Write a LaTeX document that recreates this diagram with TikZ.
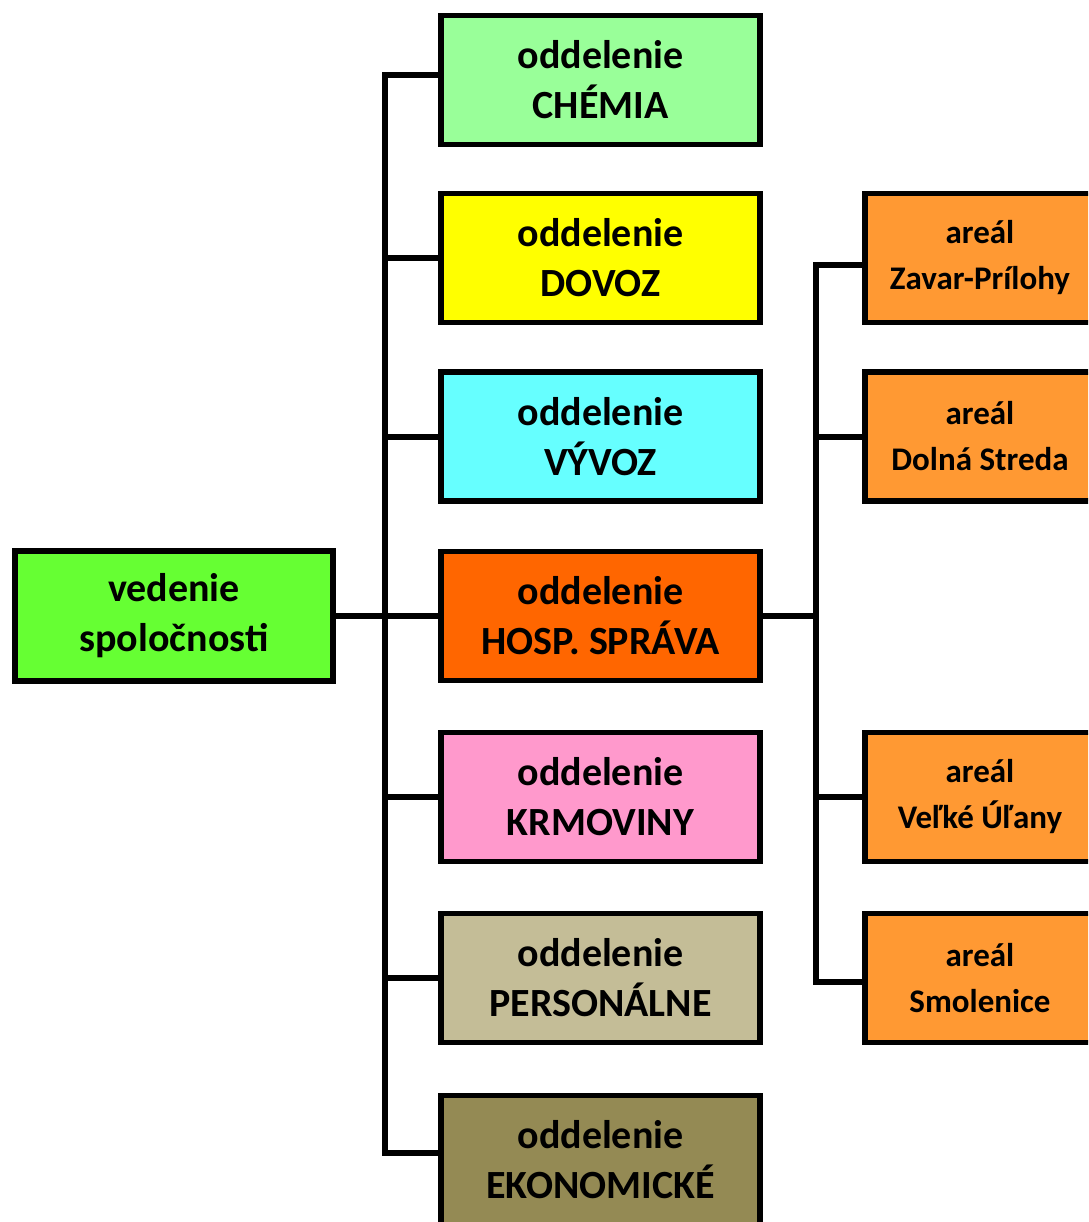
\documentclass[tikz,border=0pt]{standalone}
\usepackage{fontspec}
\setmainfont{Carlito}
\usetikzlibrary{calc}
\definecolor{cRoot}{HTML}{66FF33}
\definecolor{cChem}{HTML}{99FF99}
\definecolor{cDovoz}{HTML}{FFFF00}
\definecolor{cVyvoz}{HTML}{66FFFF}
\definecolor{cHosp}{HTML}{FF6600}
\definecolor{cKrmo}{HTML}{FF99CC}
\definecolor{cPers}{HTML}{C4BD97}
\definecolor{cEkon}{HTML}{948A54}
\definecolor{cAreal}{HTML}{FF9933}
\tikzset{
  dept/.style={draw=black, line width=5.5pt, rectangle, minimum width=319pt, minimum height=129pt,
    align=center, inner sep=0pt, text=black, font=\fontsize{40}{50}\selectfont\bfseries},
  areal/.style={draw=black, line width=5.5pt, rectangle, minimum width=230pt, minimum height=129pt,
    align=center, inner sep=0pt, text=black, font=\fontsize{33}{46}\selectfont\bfseries, fill=cAreal},
  conn/.style={draw=black, line width=6pt}
}
\begin{document}
\begin{tikzpicture}[x=1pt, y=-1pt]
\useasboundingbox (0,0) rectangle (1088,1222);
\clip (0,0) rectangle (1088,1222);
\fill[white] (0,0) rectangle (1088,1222);
% connectors (drawn first)
\node[dept, fill=cRoot, minimum width=318pt, minimum height=130pt] (root) at (174,616) {vedenie\\spoločnosti};
\node[dept, fill=cChem]  (chem)  at (600.5,80)   {oddelenie\\CHÉMIA};
\node[dept, fill=cDovoz] (dovoz) at (600.5,258)  {oddelenie\\DOVOZ};
\node[dept, fill=cVyvoz] (vyvoz) at (600.5,436.5){oddelenie\\VÝVOZ};
\node[dept, fill=cHosp]  (hosp)  at (600.5,616)  {oddelenie\\HOSP. SPRÁVA};
\node[dept, fill=cKrmo]  (krmo)  at (600.5,797)  {oddelenie\\KRMOVINY};
\node[dept, fill=cPers]  (pers)  at (600.5,978)  {oddelenie\\PERSONÁLNE};
\node[dept, fill=cEkon]  (ekon)  at (600.5,1160) {oddelenie\\EKONOMICKÉ};
\node[areal] (zavar) at (980,258)   {areál\\Zavar-Prílohy};
\node[areal] (dolna) at (980,436.5) {areál\\Dolná Streda};
\node[areal] (velke) at (980,797)   {areál\\Veľké Úľany};
\node[areal] (smol)  at (980,978)   {areál\\Smolenice};
% left trunk
\coordinate (ttop) at ($(chem.west)+(-53,-5)$);
\coordinate (tbot) at ($(ekon.west)+(-53,-7)$);
\draw[conn] ($(chem.west)+(0,-5)$) -- (ttop) -- (tbot) -- ($(ekon.west)+(0,-7)$);
\draw[conn] (dovoz.west) -- ++(-53,0);
\draw[conn] (vyvoz.west) -- ++(-53,0);
\draw[conn] (krmo.west) -- ++(-53,0);
\draw[conn] (pers.west) -- ++(-53,0);
\draw[conn] (root.east) -- (hosp.west);
% right trunk
\draw[conn] (hosp.east) -- ++(53,0);
\draw[conn] ($(zavar.west)+(0,7)$) -- ++(-46,0) |- ($(smol.west)+(0,4)$);
\draw[conn] (dolna.west) -- ++(-46,0);
\draw[conn] (velke.west) -- ++(-46,0);
\end{tikzpicture}
\end{document}
